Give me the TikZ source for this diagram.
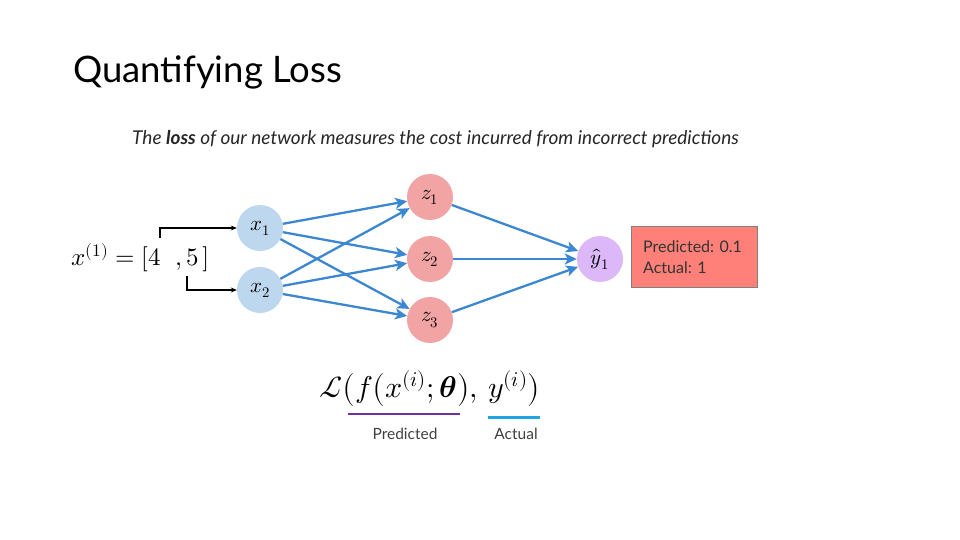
\documentclass[tikz,border=0pt]{standalone}
\usepackage{amsmath}
\usepackage{fontspec}
\usepackage{unicode-math}
\setmainfont{Lato}
\setmathfont{Latin Modern Math}
\usetikzlibrary{arrows.meta}
\definecolor{inblue}{HTML}{BDD7EE}
\definecolor{hidpink}{HTML}{F2A3A3}
\definecolor{outlav}{HTML}{DDB8F8}
\definecolor{boxred}{HTML}{FF8078}
\definecolor{edgeblue}{HTML}{3C87D2}
\definecolor{predpurple}{HTML}{7030A0}
\definecolor{actblue}{HTML}{1FA6E0}
\definecolor{labgray}{HTML}{404040}
\tikzset{
  neuron/.style={circle, minimum size=46pt, inner sep=0pt, font=\fontsize{21}{21}\selectfont},
  innode/.style={neuron, fill=inblue},
  hidnode/.style={neuron, fill=hidpink},
  outnode/.style={neuron, fill=outlav},
  edgeb/.style={draw=edgeblue, line width=2.3pt, -{Stealth[length=12pt,width=11pt,inset=3pt]}},
  feed/.style={draw=black, line width=1.2pt, -{Stealth[length=6pt,width=5pt]}},
  lbl/.style={text=labgray, font=\fontsize{15.5}{15.5}\selectfont, inner sep=0pt}
}
\begin{document}
\begin{tikzpicture}[x=1pt,y=-1pt]
\useasboundingbox (0,0) rectangle (960,540);
\node[anchor=west, inner sep=0pt, font=\fontsize{36.5}{36.5}\selectfont] (title) at (73,72) {Quantifying Loss};
\node[anchor=west, inner sep=0pt, font=\fontsize{19}{19}\selectfont\itshape, text=black!85] (sub) at (132,139) {The \textbf{loss} of our network measures the cost incurred from incorrect predictions};

\node[innode] (x1) at (260,228) {$x_1$};
\node[innode] (x2) at (260,290) {$x_2$};
\node[hidnode] (z1) at (430,197) {$z_1$};
\node[hidnode] (z2) at (430,259) {$z_2$};
\node[hidnode] (z3) at (430,320) {$z_3$};
\node[outnode] (y1) at (600,259) {$\hat{y}_1$};

\foreach \a in {x1,x2}{
  \foreach \b in {z1,z2,z3}{
    \draw[edgeb] (\a) -- (\b);
  }
}
\foreach \b in {z1,z2,z3}{
  \draw[edgeb] (\b) -- (y1);
}

\node[anchor=west, inner sep=0pt, font=\fontsize{25}{25}\selectfont] (xin) at (71,258) {$x^{(1)} = [4\;\;,5\,]$};
\coordinate (fa) at (160,238);
\coordinate (fb) at (187,276);
\draw[feed] (fa) |- (x1.west);
\draw[feed] (fb) |- (x2.west);

\node[draw=black!50, fill=boxred, minimum width=126pt, minimum height=61pt, anchor=north west, inner xsep=12pt, inner ysep=0pt, text width=102pt, align=flush left, text=black!80, font=\fontsize{16}{21}\selectfont] (res) at (631,226) {Predicted: 0.1\\Actual: 1};

\node[inner sep=0pt, font=\fontsize{30}{30}\selectfont] (loss) at (430,389) {$\mathcal{L}\bigl(f\bigl(x^{(i)};\symbfit{\theta}\bigr),\,y^{(i)}\bigr)$};
\coordinate (pa) at (348,414);
\coordinate (pb) at (460,414);
\coordinate (aa) at (488,417);
\coordinate (ab) at (540,417);
\draw[predpurple, line width=2.5pt] (pa) -- (pb);
\draw[actblue, line width=3pt] (aa) -- (ab);
\node[lbl] (plbl) at (405,434) {Predicted};
\node[lbl] (albl) at (516,434) {Actual};
\end{tikzpicture}
\end{document}
